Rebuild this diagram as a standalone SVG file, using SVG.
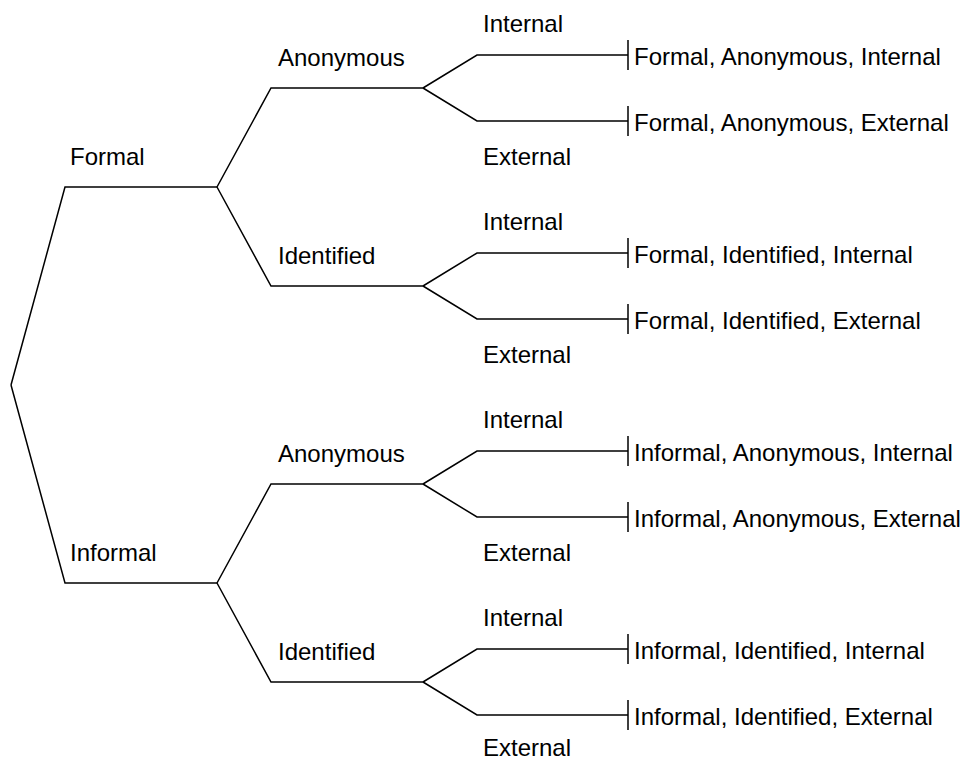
<svg xmlns="http://www.w3.org/2000/svg" width="965" height="760" viewBox="0 0 965 760">
<style>
text{font-family:"Liberation Sans",Arial,sans-serif;font-size:24px;fill:#000}
.c path{fill:none;stroke:#000;stroke-width:1.5;stroke-linejoin:miter}
</style>
<rect width="965" height="760" fill="#fff"/>
<g class="c" id="connectors">
<path d="M11,385 L65,187 L217,187"/>
<path d="M11,385 L65,583 L217,583"/>
<path d="M217,187 L271,88 L423,88"/>
<path d="M217,187 L271,286 L423,286"/>
<path d="M217,583 L271,484 L423,484"/>
<path d="M217,583 L271,682 L423,682"/>
<path d="M423,88 L477,55 L628,55 M628,40 V70"/>
<path d="M423,88 L477,121 L628,121 M628,106 V136"/>
<path d="M423,286 L477,253 L628,253 M628,238 V268"/>
<path d="M423,286 L477,319 L628,319 M628,304 V334"/>
<path d="M423,484 L477,451 L628,451 M628,436 V466"/>
<path d="M423,484 L477,517 L628,517 M628,502 V532"/>
<path d="M423,682 L477,649 L628,649 M628,634 V664"/>
<path d="M423,682 L477,715 L628,715 M628,700 V730"/>
</g>
<g id="n-formal"><text x="70" y="165">Formal</text></g>
<g id="n-informal"><text x="70" y="561">Informal</text></g>
<g id="n-f-anon"><text x="278" y="66">Anonymous</text></g>
<g id="n-f-ident"><text x="278" y="264">Identified</text></g>
<g id="n-i-anon"><text x="278" y="462">Anonymous</text></g>
<g id="n-i-ident"><text x="278" y="660">Identified</text></g>
<g id="n-fa-int"><text x="483" y="32">Internal</text></g>
<g id="n-fa-ext"><text x="483" y="165">External</text></g>
<g id="n-fi-int"><text x="483" y="230">Internal</text></g>
<g id="n-fi-ext"><text x="483" y="363">External</text></g>
<g id="n-ia-int"><text x="483" y="428">Internal</text></g>
<g id="n-ia-ext"><text x="483" y="561">External</text></g>
<g id="n-ii-int"><text x="483" y="626">Internal</text></g>
<g id="n-ii-ext"><text x="483" y="756">External</text></g>
<g id="r-fai"><text x="634" y="65">Formal, Anonymous, Internal</text></g>
<g id="r-fae"><text x="634" y="131">Formal, Anonymous, External</text></g>
<g id="r-fii"><text x="634" y="263">Formal, Identified, Internal</text></g>
<g id="r-fie"><text x="634" y="329">Formal, Identified, External</text></g>
<g id="r-iai"><text x="634" y="461">Informal, Anonymous, Internal</text></g>
<g id="r-iae"><text x="634" y="527">Informal, Anonymous, External</text></g>
<g id="r-iii"><text x="634" y="659">Informal, Identified, Internal</text></g>
<g id="r-iie"><text x="634" y="725">Informal, Identified, External</text></g>
</svg>
